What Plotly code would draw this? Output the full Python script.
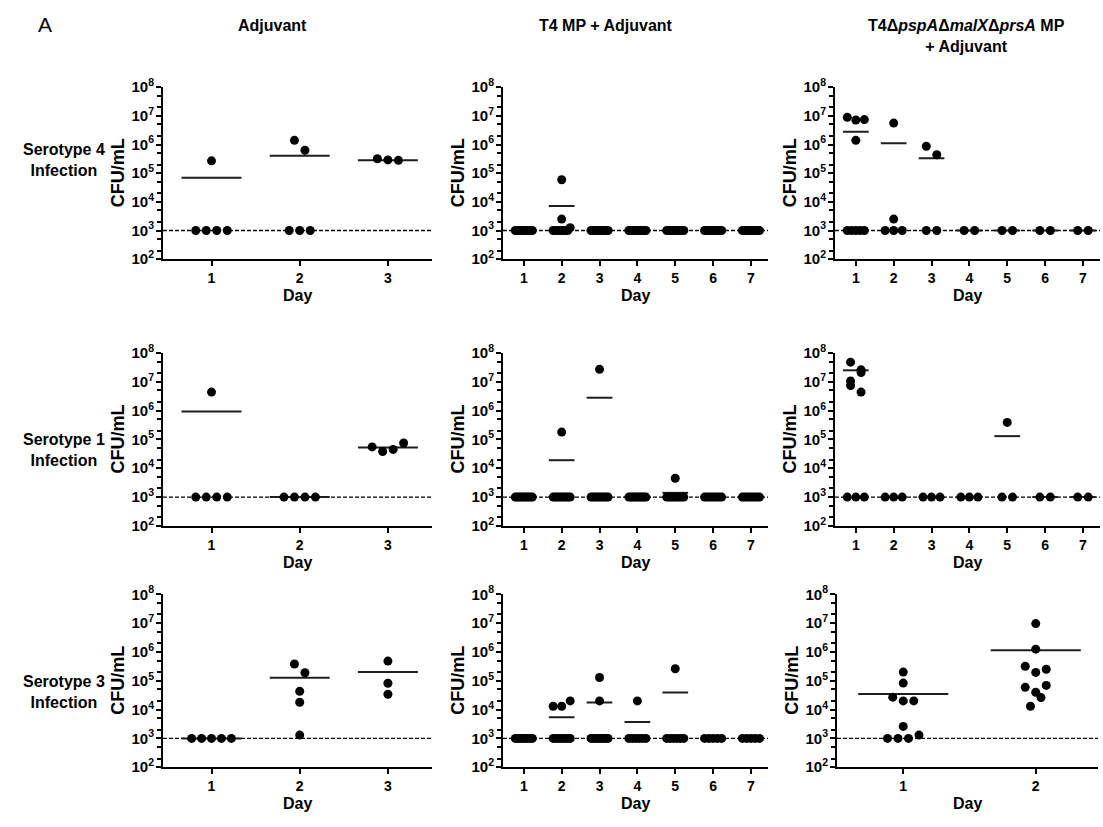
import math
import plotly.graph_objects as go

# ---------------------------------------------------------------- data ----
LOD = 1e3  # limit of detection (CFU/mL)

days_3 = [1, 2, 3]
days_7 = [1, 2, 3, 4, 5, 6, 7]
days_2 = [1, 2]

# Serotype 4 infection
s4_adj_cfu = [
    [1e3, 1e3, 1e3, 1e3, 2.7e5],
    [1e3, 1e3, 1e3, 1.4e6, 6.3e5],
    [3.2e5, 2.9e5, 2.8e5],
]
s4_adj_mean = [7e4, 4.1e5, 2.8e5]

s4_t4_cfu = [
    [1e3, 1e3, 1e3, 1e3, 1e3, 1e3, 1e3, 1e3, 1e3, 1e3],
    [1e3, 1e3, 1e3, 1e3, 1e3, 1e3, 1e3, 1.26e3, 2.5e3, 5.9e4],
    [1e3, 1e3, 1e3, 1e3, 1e3, 1e3, 1e3, 1e3, 1e3, 1e3],
    [1e3, 1e3, 1e3, 1e3, 1e3, 1e3, 1e3, 1e3, 1e3, 1e3],
    [1e3, 1e3, 1e3, 1e3, 1e3, 1e3, 1e3, 1e3, 1e3, 1e3],
    [1e3, 1e3, 1e3, 1e3, 1e3, 1e3, 1e3, 1e3, 1e3, 1e3],
    [1e3, 1e3, 1e3, 1e3, 1e3, 1e3, 1e3, 1e3, 1e3, 1e3],
]
s4_t4_mean = [1e3, 7.1e3, 1e3, 1e3, 1e3, 1e3, 1e3]

s4_mut_cfu = [
    [1e3, 1e3, 1e3, 1e3, 1e3, 8.9e6, 7.2e6, 7.4e6, 1.4e6],
    [1e3, 1e3, 1e3, 2.5e3, 5.6e6],
    [1e3, 1e3, 8.7e5, 4.4e5],
    [1e3, 1e3],
    [1e3, 1e3],
    [1e3, 1e3],
    [1e3, 1e3],
]
s4_mut_mean = [2.8e6, 1.1e6, 3.3e5, 1e3, 1e3, 1e3, 1e3]

# Serotype 1 infection
s1_adj_cfu = [
    [1e3, 1e3, 1e3, 1e3, 4.4e6],
    [1e3, 1e3, 1e3, 1e3],
    [5.5e4, 3.8e4, 4.5e4, 7.5e4],
]
s1_adj_mean = [9.3e5, 1e3, 5.2e4]

s1_t4_cfu = [
    [1e3, 1e3, 1e3, 1e3, 1e3, 1e3, 1e3, 1e3, 1e3, 1e3],
    [1e3, 1e3, 1e3, 1e3, 1e3, 1e3, 1e3, 1e3, 1e3, 1.8e5],
    [1e3, 1e3, 1e3, 1e3, 1e3, 1e3, 1e3, 1e3, 1e3, 2.7e7],
    [1e3, 1e3, 1e3, 1e3, 1e3, 1e3, 1e3, 1e3, 1e3, 1e3],
    [1e3, 1e3, 1e3, 1e3, 1e3, 1e3, 1e3, 1e3, 1e3, 4.5e3],
    [1e3, 1e3, 1e3, 1e3, 1e3, 1e3, 1e3, 1e3],
    [1e3, 1e3, 1e3, 1e3, 1e3, 1e3, 1e3, 1e3],
]
s1_t4_mean = [1e3, 1.9e4, 2.8e6, 1e3, 1.4e3, 1e3, 1e3]

s1_mut_cfu = [
    [1e3, 1e3, 1e3, 4.8e7, 2.6e7, 1.07e7, 2.1e7, 7.4e6, 4.4e6],
    [1e3, 1e3, 1e3],
    [1e3, 1e3, 1e3],
    [1e3, 1e3, 1e3],
    [1e3, 1e3, 3.9e5],
    [1e3, 1e3],
    [1e3, 1e3],
]
s1_mut_mean = [2.5e7, 1e3, 1e3, 1e3, 1.3e5, 1e3, 1e3]

# Serotype 3 infection
s3_adj_cfu = [
    [1e3, 1e3, 1e3, 1e3, 1e3],
    [1.3e3, 1.8e4, 4.3e4, 3.8e5, 1.9e5],
    [4.8e5, 8.2e4, 3.4e4],
]
s3_adj_mean = [1e3, 1.26e5, 2.0e5]

s3_t4_cfu = [
    [1e3, 1e3, 1e3, 1e3, 1e3, 1e3, 1e3, 1e3],
    [1e3, 1e3, 1e3, 1e3, 1e3, 1e3, 1e3, 1.3e4, 1.3e4, 2.0e4],
    [1e3, 1e3, 1e3, 1e3, 1e3, 1e3, 1e3, 1e3, 2.0e4, 1.3e5],
    [1e3, 1e3, 1e3, 1e3, 1e3, 1e3, 2.0e4],
    [1e3, 1e3, 1e3, 1e3, 1e3, 1e3, 2.6e5],
    [1e3, 1e3, 1e3, 1e3, 1e3],
    [1e3, 1e3, 1e3, 1e3, 1e3],
]
s3_t4_mean = [1e3, 5.4e3, 1.75e4, 3.7e3, 3.9e4, 1e3, 1e3]

s3_mut_cfu = [
    [1e3, 1e3, 1e3, 1.3e3, 2.6e3, 2.7e4, 2.0e4, 2.0e4, 8.3e4, 2.0e5],
    [1.3e4, 2.6e4, 5.9e4, 4.0e4, 6.9e4, 3.2e5, 1.95e5, 2.5e5, 1.25e6, 9.6e6],
]
s3_mut_mean = [3.5e4, 1.15e6]

col_titles = [
    "Adjuvant",
    "T4 MP + Adjuvant",
    "T4Δ<i>pspA</i>Δ<i>malX</i>Δ<i>prsA</i> MP<br>+ Adjuvant",
]
row_titles = ["Serotype 4<br>Infection", "Serotype 1<br>Infection", "Serotype 3<br>Infection"]
y_exponents = [2, 3, 4, 5, 6, 7, 8]

panels = [
    (days_3, s4_adj_cfu, s4_adj_mean), (days_7, s4_t4_cfu, s4_t4_mean), (days_7, s4_mut_cfu, s4_mut_mean),
    (days_3, s1_adj_cfu, s1_adj_mean), (days_7, s1_t4_cfu, s1_t4_mean), (days_7, s1_mut_cfu, s1_mut_mean),
    (days_3, s3_adj_cfu, s3_adj_mean), (days_7, s3_t4_cfu, s3_t4_mean), (days_2, s3_mut_cfu, s3_mut_mean),
]

# -------------------------------------------------------------- layout ----
W, H = 1103, 827
FONT = "Arial, Liberation Sans, sans-serif"
COL_PX = [(163, 432), (503, 768), (835, 1100)]
ROW_PX = [(78, 254), (350, 527), (597, 774)]
COL_TITLE_X = [272, 606, 966]
ROW_TITLE_Y = [153, 449, 697]
X_RANGE = {3: [0.45, 3.5], 7: [0.45, 7.45], 2: [0.5, 2.47]}
Y_RANGE = [2, 8]
DOT_STEP_PX = 10.5      # horizontal spacing of side-by-side dots
ROW_GAP_PX = 10.5       # dots closer than this vertically share a row
MEAN_HALF = 0.34        # half-width of the mean bar, in days


def swarm_x(day, values, px_per_day, px_per_dec):
    """Column-scatter placement: near-equal values are laid out side by side."""
    logs = [math.log10(v) for v in values]
    order = sorted(range(len(values)), key=lambda i: (logs[i], i))
    rows = []
    for i in order:
        if rows and (logs[i] - logs[rows[-1][0]]) * px_per_dec <= ROW_GAP_PX:
            rows[-1].append(i)
        else:
            rows.append([i])
    xs = [day] * len(values)
    max_span = 0.45 * px_per_day
    for r in rows:
        r.sort()
        n = len(r)
        step = DOT_STEP_PX if n < 2 else min(DOT_STEP_PX, max_span / (n - 1))
        for k, i in enumerate(r):
            xs[i] = day + (k - (n - 1) / 2) * step / px_per_day
    return xs


fig = go.Figure()
layout = {}
annotations = []

for idx, (days, cfu, means) in enumerate(panels):
    r, c = divmod(idx, 3)
    n = idx + 1
    xa, ya = ("x", "y") if n == 1 else (f"x{n}", f"y{n}")
    x0, x1 = COL_PX[c]
    y0, y1 = ROW_PX[r]
    if len(days) == 2:
        x0, x1 = 837, 1098
    xr = X_RANGE[len(days)]
    px_per_day = (x1 - x0) / (xr[1] - xr[0])
    px_per_dec = (y1 - y0) / (Y_RANGE[1] - Y_RANGE[0])

    # limit-of-detection line
    fig.add_trace(go.Scatter(
        x=xr, y=[LOD, LOD], mode="lines", xaxis=xa, yaxis=ya,
        line=dict(color="black", width=1.3, dash="4px,2px"),
        hoverinfo="skip", showlegend=False, cliponaxis=False))

    # mean bars
    mx, my = [], []
    for d, m in zip(days, means):
        mx += [d - MEAN_HALF, d + MEAN_HALF, None]
        my += [m, m, None]
    fig.add_trace(go.Scatter(
        x=mx, y=my, mode="lines", xaxis=xa, yaxis=ya,
        line=dict(color="#1e1e1e", width=2), hoverinfo="skip", showlegend=False))

    # individual animals
    px_, py_ = [], []
    for d, vals in zip(days, cfu):
        px_ += swarm_x(d, vals, px_per_day, px_per_dec)
        py_ += vals
    fig.add_trace(go.Scatter(
        x=px_, y=py_, mode="markers", xaxis=xa, yaxis=ya,
        marker=dict(color="black", size=9, line=dict(width=0)),
        showlegend=False, cliponaxis=False))

    axis_common = dict(
        showline=True, linecolor="black", linewidth=2, mirror=False,
        ticks="outside", ticklen=5, tickwidth=2, tickcolor="black",
        showgrid=False, zeroline=False,
        tickfont=dict(family=FONT, size=14, color="black", weight="bold"),
    )
    layout["xaxis" + ("" if n == 1 else str(n))] = dict(
        axis_common, domain=[x0 / W, x1 / W], anchor=ya, range=xr,
        tickmode="array", tickvals=days, ticktext=[str(d) for d in days],
    )
    layout["yaxis" + ("" if n == 1 else str(n))] = dict(
        axis_common, domain=[1 - y1 / H, 1 - y0 / H], anchor=xa,
        type="log", range=Y_RANGE,
        tickmode="array", tickvals=[10 ** e for e in y_exponents],
        ticktext=[f"10<sup>{e}</sup>" for e in y_exponents],
        ticklabelstandoff=-1,
        minor=dict(ticks="outside", ticklen=4, tickwidth=1.5, tickcolor="black", dtick="D2"),
        tickfont=dict(family=FONT, size=15, color="black", weight="bold"),
    )

    # axis titles
    annotations.append(dict(
        text="CFU/mL", x=(x0 - 45) / W, y=1 - (y0 + y1) / 2 / H, xref="paper", yref="paper",
        textangle=-90, showarrow=False, xanchor="center", yanchor="middle",
        font=dict(family=FONT, size=18, color="black", weight="bold")))
    annotations.append(dict(
        text="Day", x=(x0 + x1) / 2 / W, y=1 - (y1 + 37) / H, xref="paper", yref="paper",
        showarrow=False, xanchor="center", yanchor="middle",
        font=dict(family=FONT, size=16, color="black", weight="bold")))

# column headings
for cx, t in zip(COL_TITLE_X, col_titles):
    annotations.append(dict(
        text=t, x=cx / W, y=1 - 4 / H, xref="paper", yref="paper",
        showarrow=False, xanchor="center", yanchor="top",
        font=dict(family=FONT, size=16, color="black", weight="bold")))

# row headings
for ry, t in zip(ROW_TITLE_Y, row_titles):
    annotations.append(dict(
        text=t, x=64 / W, y=1 - ry / H, xref="paper", yref="paper",
        showarrow=False, xanchor="center", yanchor="middle",
        font=dict(family=FONT, size=16, color="black", weight="bold")))

annotations.append(dict(
    text="A", x=45 / W, y=1 - 14 / H, xref="paper", yref="paper",
    showarrow=False, xanchor="center", yanchor="middle",
    font=dict(family=FONT, size=21, color="black")))

fig.update_layout(
    **layout,
    annotations=annotations,
    width=W, height=H, autosize=False,
    margin=dict(l=0, r=0, t=0, b=0),
    paper_bgcolor="white", plot_bgcolor="white",
    font=dict(family=FONT, color="black"),
)

fig.write_html("out.html")
